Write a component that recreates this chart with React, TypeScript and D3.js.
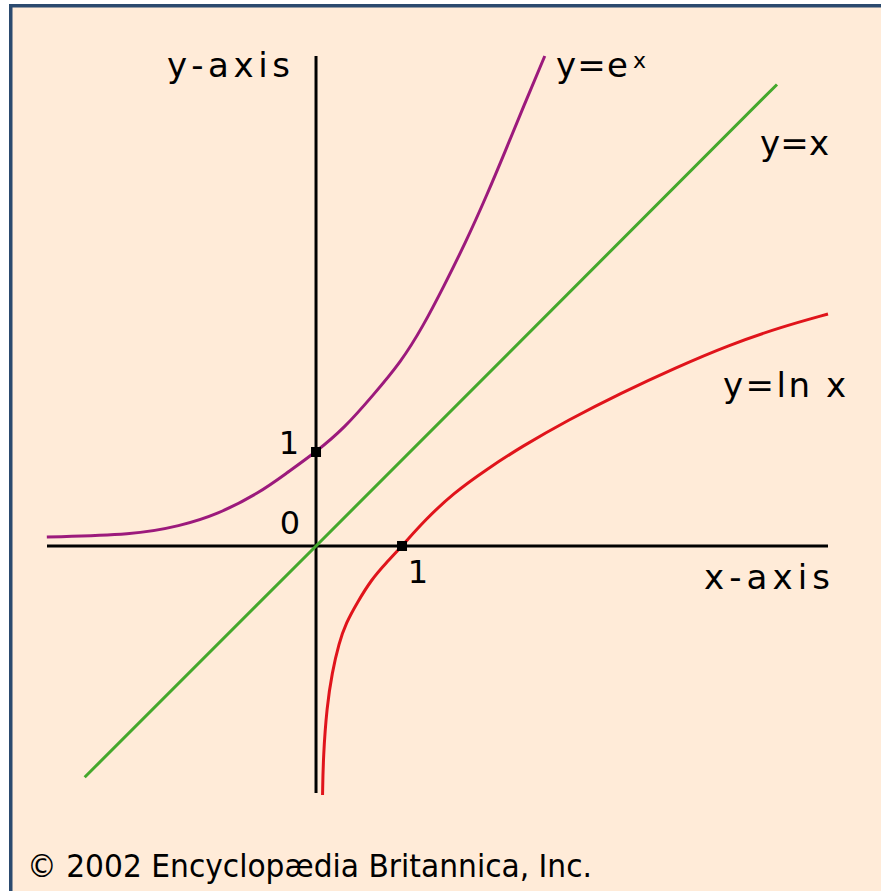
import React from "react";
import * as d3 from "d3";

// Curves (x, y in axis units)
const expX = [-3.13, -2.12, -1.58, -1.16, -0.66, -0.34, 0, 0.33, 0.66, 0.99, 1.24, 1.49, 1.74, 1.99, 2.2, 2.41, 2.66];
const expY = [0.096, 0.117, 0.213, 0.33, 0.564, 0.777, 1.0, 1.255, 1.6, 1.96, 2.33, 2.77, 3.23, 3.74, 4.2, 4.67, 5.213];

const idX = [-2.69, 0, 5.36];
const idY = [-2.46, 0, 4.91];

const lnX = [0.076, 0.084, 0.126, 0.186, 0.267, 0.349, 0.477, 0.64, 0.814, 1.0, 1.267, 1.6, 1.973, 2.388, 2.93, 3.547, 4.174, 4.798, 5.419, 5.953];
const lnY = [-2.649, -2.241, -1.71, -1.351, -1.032, -0.819, -0.606, -0.362, -0.181, 0, 0.277, 0.564, 0.809, 1.056, 1.34, 1.628, 1.894, 2.138, 2.333, 2.468];

const markedX = [0, 1];
const markedY = [1, 0];

const xDomain = [-3.128, 5.953];
const yDomain = [-2.628, 5.213];

const W = 881;
const H = 891;

export default function App() {
  const x = d3.scaleLinear().domain(xDomain).range([47, 828]);
  const y = d3.scaleLinear().domain(yDomain).range([793, 56]);

  const smooth = d3
    .line<[number, number]>()
    .x((d) => x(d[0]))
    .y((d) => y(d[1]))
    .curve(d3.curveBasis);
  const straight = d3
    .line<[number, number]>()
    .x((d) => x(d[0]))
    .y((d) => y(d[1]));

  const exp = expX.map((v, i) => [v, expY[i]] as [number, number]);
  const id = idX.map((v, i) => [v, idY[i]] as [number, number]);
  const ln = lnX.map((v, i) => [v, lnY[i]] as [number, number]);

  const font = "'DejaVu Sans', sans-serif";
  const bg = "#FFEBD8";

  return (
    <svg
      width={W}
      height={H}
      style={{ position: "absolute", left: 0, top: 0 }}
      xmlns="http://www.w3.org/2000/svg"
    >
      <rect x={0} y={0} width={W} height={H} fill="#ffffff" />
      <rect x={9} y={4} width={W - 9} height={H - 4} fill={bg} />
      <rect x={9} y={4} width={W - 9} height={3.5} fill="#2B4A6F" />
      <rect x={9} y={4} width={3.5} height={H - 4} fill="#2B4A6F" />

      {/* axes */}
      <line x1={x(xDomain[0])} x2={x(xDomain[1])} y1={y(0)} y2={y(0)} stroke="#000" strokeWidth={3} />
      <line x1={x(0)} x2={x(0)} y1={y(yDomain[0])} y2={y(yDomain[1])} stroke="#000" strokeWidth={3} />

      {/* curves */}
      <path d={straight(id) || ""} fill="none" stroke="#45A82C" strokeWidth={3} />
      <path d={smooth(exp) || ""} fill="none" stroke="#9C1A7C" strokeWidth={3} />
      <path d={smooth(ln) || ""} fill="none" stroke="#E0141B" strokeWidth={3} />

      {/* marked points */}
      {markedX.map((v, i) => (
        <rect key={i} x={x(v) - 5} y={y(markedY[i]) - 5} width={10} height={10} fill="#000" />
      ))}

      {/* labels */}
      <g fontFamily={font} fill="#000">
        <text x={167} y={77} fontSize={34} textLength={123} lengthAdjust="spacing">y-axis</text>
        <text x={556} y={77} fontSize={34} textLength={72} lengthAdjust="spacing">y=e</text>
        <text x={633} y={68} fontSize={22} textLength={15} lengthAdjust="spacing">x</text>
        <text x={760} y={155} fontSize={34} textLength={69} lengthAdjust="spacing">y=x</text>
        <text x={723} y={397} fontSize={34} textLength={123} lengthAdjust="spacing">y=ln x</text>
        <text x={704} y={589} fontSize={34} textLength={126} lengthAdjust="spacing">x-axis</text>
        <text x={289} y={454} fontSize={32} textAnchor="middle">1</text>
        <text x={290} y={534} fontSize={32} textAnchor="middle">0</text>
        <text x={418} y={583} fontSize={32} textAnchor="middle">1</text>
        <text x={27} y={877} fontSize={32} textLength={565} lengthAdjust="spacingAndGlyphs">© 2002 Encyclopædia Britannica, Inc.</text>
      </g>
    </svg>
  );
}
